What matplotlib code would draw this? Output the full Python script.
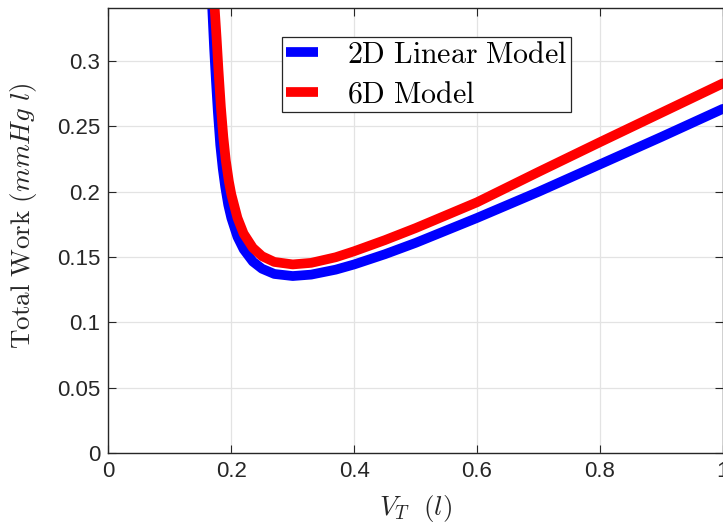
import matplotlib
matplotlib.use('Agg')
import matplotlib.pyplot as plt

# total work vs tidal volume
vt_2d = [0.169, 0.172, 0.175, 0.178, 0.182, 0.186, 0.190, 0.195, 0.200, 0.210,
         0.220, 0.235, 0.250, 0.270, 0.300, 0.330, 0.370, 0.400, 0.450, 0.500,
         0.600, 0.700, 0.800, 0.900, 1.000]
work_2d = [0.340, 0.310, 0.285, 0.262, 0.236, 0.218, 0.204, 0.190, 0.180, 0.1655,
           0.156, 0.1466, 0.1411, 0.1371, 0.1355, 0.1366, 0.1404, 0.1444, 0.1522, 0.1609,
           0.180, 0.200, 0.221, 0.242, 0.2635]

vt_6d = [0.173, 0.176, 0.179, 0.183, 0.187, 0.191, 0.196, 0.200, 0.210, 0.220,
         0.235, 0.250, 0.270, 0.300, 0.330, 0.370, 0.400, 0.450, 0.500, 0.600,
         0.700, 0.800, 0.900, 1.000]
work_6d = [0.340, 0.318, 0.294, 0.265, 0.242, 0.224, 0.208, 0.198, 0.180, 0.168,
           0.1571, 0.1507, 0.1463, 0.1444, 0.1456, 0.1499, 0.1545, 0.163, 0.1722, 0.192,
           0.2152, 0.238, 0.2605, 0.283]

x_ticks = [0, 0.2, 0.4, 0.6, 0.8, 1]
x_labels = ['0', '0.2', '0.4', '0.6', '0.8', '1']
y_ticks = [0, 0.05, 0.1, 0.15, 0.2, 0.25, 0.3]
y_labels = ['0', '0.05', '0.1', '0.15', '0.2', '0.25', '0.3']

plt.rcParams['mathtext.fontset'] = 'cm'
plt.rcParams['font.family'] = 'Liberation Sans'

fig = plt.figure(figsize=(7.23, 5.25), dpi=100)
ax = fig.add_axes([0.15, 0.1371, 0.8497, 0.8471])

ax.plot(vt_2d, work_2d, color='#0000ff', lw=7, solid_capstyle='round',
        label=r'$\mathrm{2D\ Linear\ Model}$')
ax.plot(vt_6d, work_6d, color='#ff0000', lw=7, solid_capstyle='round',
        label=r'$\mathrm{6D\ Model}$')

ax.set_xlim(0, 1)
ax.set_ylim(0, 0.3405)
ax.set_xticks(x_ticks)
ax.set_xticklabels(x_labels)
ax.set_yticks(y_ticks)
ax.set_yticklabels(y_labels)
ax.tick_params(direction='in', length=6, width=0.8, colors='#262626',
               labelsize=16, top=True, right=True, pad=6)
ax.grid(True, color='#e3e3e3', lw=0.9)
ax.set_axisbelow(True)
for s in ax.spines.values():
    s.set_color('#262626')
    s.set_linewidth(1.0)

ax.set_xlabel(r'$V_T\ \ (l)$', fontsize=19.5, color='#262626', labelpad=8)
ax.set_ylabel(r'$\mathrm{Total\ Work}\ (mmHg\ l)$', fontsize=19.5, color='#262626')
ax.yaxis.set_label_coords(-0.113, 0.533)

leg = ax.legend(loc='upper left', bbox_to_anchor=(0.283, 0.935), borderaxespad=0,
                fontsize=21.5, fancybox=False, framealpha=1, edgecolor='#262626',
                handlelength=1.07, handletextpad=0.98, borderpad=0.12, labelspacing=0.38)
for line in leg.get_lines():
    line.set_solid_capstyle('butt')
leg.get_frame().set_linewidth(0.9)

fig.savefig('out.png', dpi=100)
